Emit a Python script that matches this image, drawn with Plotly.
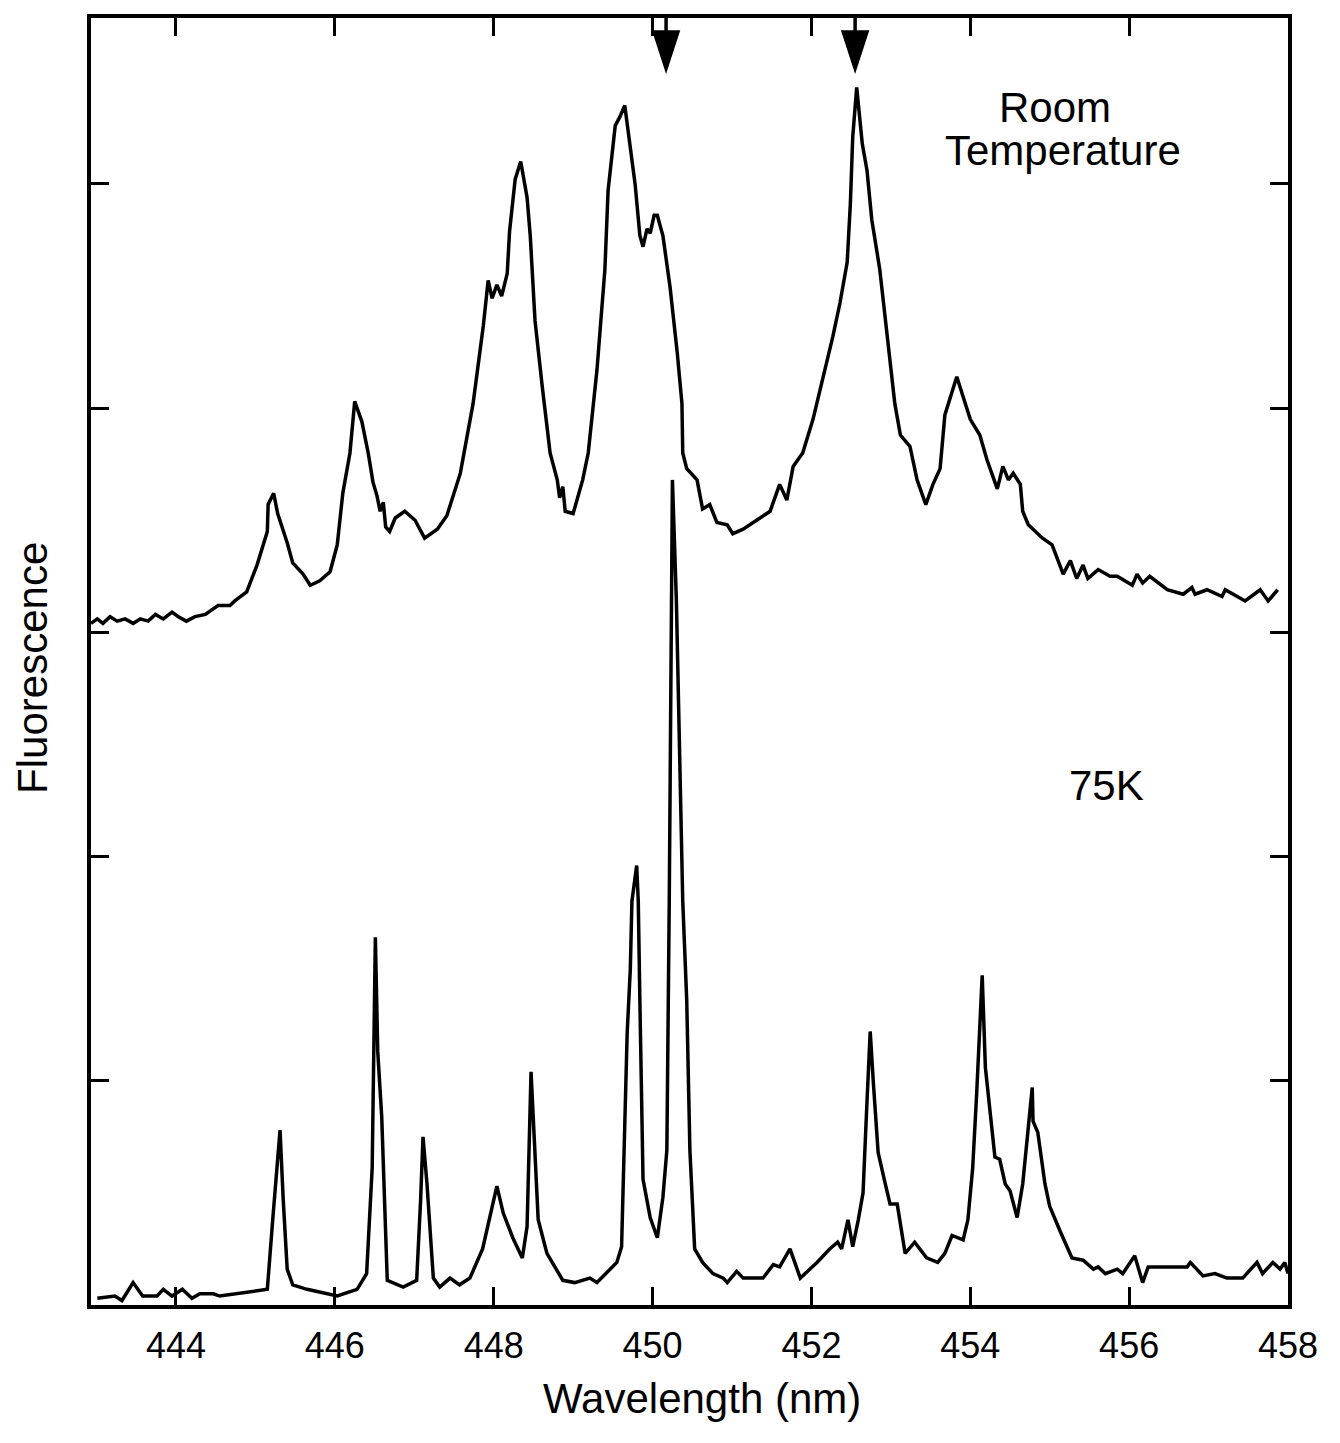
import plotly.graph_objects as go

# ---- data ----
rt_wavelength = [442.93, 443.01, 443.08, 443.17, 443.26, 443.36, 443.46, 443.55, 443.65, 443.74,
                 443.84, 443.95, 444.03, 444.13, 444.24, 444.37, 444.45, 444.53, 444.68, 444.74,
                 444.89, 445.02, 445.15, 445.16, 445.23, 445.28, 445.40, 445.47, 445.60, 445.69,
                 445.81, 445.94, 446.03, 446.10, 446.19, 446.25, 446.34, 446.42, 446.48, 446.53,
                 446.57, 446.61, 446.64, 446.69, 446.76, 446.88, 447.01, 447.13, 447.29, 447.41,
                 447.58, 447.74, 447.87, 447.93, 447.98, 448.04, 448.10, 448.17, 448.20, 448.27,
                 448.34, 448.38, 448.42, 448.46, 448.52, 448.61, 448.71, 448.80, 448.83, 448.87,
                 448.90, 449.00, 449.06, 449.12, 449.19, 449.30, 449.40, 449.44, 449.53, 449.59,
                 449.65, 449.72, 449.75, 449.78, 449.84, 449.88, 449.93, 449.97, 450.02, 450.06,
                 450.09, 450.13, 450.22, 450.31, 450.37, 450.38, 450.43, 450.56, 450.63, 450.72,
                 450.81, 450.94, 451.01, 451.14, 451.31, 451.48, 451.60, 451.69, 451.77, 451.89,
                 452.02, 452.15, 452.27, 452.36, 452.45, 452.49, 452.52, 452.57, 452.64, 452.70,
                 452.76, 452.86, 452.95, 453.05, 453.12, 453.24, 453.33, 453.44, 453.53, 453.62,
                 453.68, 453.83, 454.00, 454.12, 454.21, 454.34, 454.41, 454.48, 454.54, 454.63,
                 454.66, 454.73, 454.91, 455.03, 455.17, 455.26, 455.34, 455.42, 455.48, 455.61,
                 455.76, 455.85, 456.04, 456.10, 456.17, 456.26, 456.48, 456.68, 456.79, 456.83,
                 456.98, 457.17, 457.21, 457.46, 457.65, 457.75, 457.87]
rt_intensity = [3.04, 3.06, 3.04, 3.07, 3.05, 3.06, 3.04, 3.06, 3.05, 3.08,
                3.06, 3.09, 3.07, 3.05, 3.07, 3.08, 3.10, 3.12, 3.12, 3.14,
                3.18, 3.30, 3.45, 3.57, 3.62, 3.53, 3.40, 3.31, 3.26, 3.21,
                3.23, 3.27, 3.39, 3.62, 3.80, 4.03, 3.94, 3.80, 3.67, 3.61,
                3.54, 3.58, 3.47, 3.45, 3.51, 3.54, 3.50, 3.42, 3.46, 3.52,
                3.71, 4.02, 4.37, 4.57, 4.49, 4.55, 4.50, 4.60, 4.79, 5.02,
                5.10, 5.02, 4.94, 4.77, 4.39, 4.10, 3.80, 3.68, 3.60, 3.65,
                3.54, 3.53, 3.60, 3.68, 3.80, 4.17, 4.62, 4.97, 5.26, 5.30,
                5.35, 5.15, 5.07, 5.00, 4.77, 4.72, 4.80, 4.78, 4.86, 4.86,
                4.82, 4.77, 4.54, 4.25, 4.02, 3.80, 3.73, 3.68, 3.55, 3.57,
                3.49, 3.48, 3.44, 3.46, 3.50, 3.54, 3.66, 3.59, 3.74, 3.80,
                3.95, 4.14, 4.32, 4.47, 4.65, 4.91, 5.21, 5.43, 5.18, 5.06,
                4.84, 4.62, 4.32, 4.02, 3.88, 3.83, 3.68, 3.57, 3.66, 3.73,
                3.97, 4.14, 3.95, 3.88, 3.77, 3.64, 3.74, 3.68, 3.71, 3.66,
                3.54, 3.48, 3.42, 3.39, 3.26, 3.32, 3.24, 3.30, 3.24, 3.28,
                3.25, 3.25, 3.21, 3.26, 3.22, 3.25, 3.19, 3.17, 3.20, 3.17,
                3.19, 3.16, 3.19, 3.14, 3.19, 3.14, 3.19]

k75_wavelength = [443.01, 443.23, 443.32, 443.46, 443.58, 443.76, 443.84, 443.95, 444.08, 444.20,
                  444.30, 444.47, 444.55, 445.15, 445.22, 445.31, 445.35, 445.40, 445.47, 445.65,
                  446.03, 446.28, 446.40, 446.47, 446.51, 446.54, 446.59, 446.66, 446.86, 447.03,
                  447.08, 447.11, 447.16, 447.24, 447.32, 447.45, 447.57, 447.70, 447.86, 447.95,
                  448.04, 448.12, 448.24, 448.36, 448.42, 448.47, 448.52, 448.56, 448.67, 448.87,
                  449.02, 449.21, 449.30, 449.55, 449.61, 449.63, 449.68, 449.72, 449.74, 449.80,
                  449.82, 449.84, 449.88, 449.97, 450.06, 450.13, 450.18, 450.21, 450.24, 450.25,
                  450.30, 450.38, 450.43, 450.47, 450.53, 450.63, 450.76, 450.89, 450.94, 451.06,
                  451.14, 451.39, 451.52, 451.60, 451.73, 451.86, 452.07, 452.23, 452.33, 452.38,
                  452.46, 452.52, 452.59, 452.65, 452.70, 452.74, 452.78, 452.84, 452.93, 452.99,
                  453.08, 453.18, 453.30, 453.45, 453.59, 453.68, 453.77, 453.91, 453.97, 454.03,
                  454.08, 454.15, 454.19, 454.25, 454.31, 454.37, 454.44, 454.50, 454.59, 454.66,
                  454.78, 454.79, 454.85, 454.94, 455.00, 455.13, 455.28, 455.42, 455.55, 455.61,
                  455.70, 455.85, 455.92, 456.07, 456.17, 456.24, 456.43, 456.73, 456.77, 456.93,
                  457.08, 457.23, 457.43, 457.61, 457.68, 457.81, 457.90, 457.96, 458.00]
k75_intensity = [0.03, 0.04, 0.02, 0.10, 0.04, 0.04, 0.07, 0.04, 0.07, 0.03,
                 0.05, 0.05, 0.04, 0.07, 0.39, 0.78, 0.47, 0.16, 0.09, 0.07,
                 0.04, 0.07, 0.14, 0.61, 1.64, 1.13, 0.84, 0.11, 0.08, 0.11,
                 0.47, 0.75, 0.54, 0.12, 0.08, 0.12, 0.09, 0.12, 0.25, 0.39,
                 0.53, 0.41, 0.30, 0.21, 0.35, 1.04, 0.65, 0.38, 0.23, 0.11,
                 0.10, 0.12, 0.10, 0.19, 0.26, 0.54, 1.21, 1.50, 1.80, 1.96,
                 1.80, 1.36, 0.56, 0.39, 0.30, 0.48, 0.69, 1.80, 3.14, 3.68,
                 3.14, 1.80, 1.36, 0.69, 0.25, 0.19, 0.14, 0.12, 0.10, 0.15,
                 0.12, 0.12, 0.18, 0.17, 0.25, 0.12, 0.19, 0.25, 0.28, 0.25,
                 0.38, 0.26, 0.38, 0.50, 0.91, 1.22, 0.99, 0.68, 0.54, 0.45,
                 0.45, 0.23, 0.28, 0.21, 0.19, 0.23, 0.31, 0.29, 0.38, 0.61,
                 0.94, 1.47, 1.06, 0.84, 0.66, 0.65, 0.54, 0.51, 0.39, 0.54,
                 0.97, 0.82, 0.77, 0.54, 0.44, 0.33, 0.21, 0.20, 0.16, 0.17,
                 0.14, 0.16, 0.14, 0.22, 0.10, 0.17, 0.17, 0.17, 0.19, 0.13,
                 0.14, 0.12, 0.12, 0.19, 0.14, 0.19, 0.16, 0.19, 0.14]

arrow_wavelengths = [450.17, 452.55]
arrow_tip = 5.49
arrow_top = 5.74
arrow_base = 5.66

x_tick_values = [444, 446, 448, 450, 452, 454, 456, 458]
x_tick_labels = ["444", "446", "448", "450", "452", "454", "456", "458"]
y_tick_values = [1, 2, 3, 4, 5]

FONT = "Liberation Sans, Arial, Helvetica, sans-serif"

fig = go.Figure()
fig.add_trace(go.Scatter(x=rt_wavelength, y=rt_intensity, mode="lines",
                         line=dict(color="black", width=3.5), showlegend=False))
fig.add_trace(go.Scatter(x=k75_wavelength, y=k75_intensity, mode="lines",
                         line=dict(color="black", width=3.5), showlegend=False))

for xa in arrow_wavelengths:
    fig.add_trace(go.Scatter(x=[xa, xa], y=[arrow_top, arrow_base], mode="lines",
                             line=dict(color="black", width=3.5), showlegend=False,
                             cliponaxis=False))
fig.add_trace(go.Scatter(x=arrow_wavelengths, y=[arrow_tip] * len(arrow_wavelengths),
                         mode="markers",
                         marker=dict(symbol="arrow", angle=180, size=46, color="black",
                                     line=dict(width=0)),
                         showlegend=False, cliponaxis=False))

axis_common = dict(showgrid=False, zeroline=False, showline=True, linecolor="black",
                   linewidth=4, mirror="ticks", ticks="inside", ticklen=18,
                   tickwidth=2.5, tickcolor="black")

fig.update_layout(
    width=1340, height=1443, autosize=False,
    margin=dict(l=83, r=60, t=6, b=146),
    paper_bgcolor="white", plot_bgcolor="white",
    font=dict(family=FONT, color="black"),
    xaxis=dict(range=[442.93, 458], tickvals=x_tick_values, ticktext=x_tick_labels,
               tickfont=dict(size=36, family=FONT, color="black"),
               ticklabelstandoff=6, **axis_common),
    yaxis=dict(range=[0, 5.74], tickvals=y_tick_values, showticklabels=False,
               **axis_common),
    annotations=[
        dict(text="Wavelength (nm)", xref="paper", yref="paper", x=0.5105, y=-0.073,
             xanchor="center", yanchor="middle", showarrow=False,
             font=dict(size=42, family=FONT, color="black")),
        dict(text="Fluorescence", xref="paper", yref="paper", x=-0.0485, y=0.495,
             xanchor="center", yanchor="middle", showarrow=False, textangle=-90,
             font=dict(size=42, family=FONT, color="black")),
        dict(text="Room", xref="paper", yref="paper", x=0.8053, y=0.9303,
             xanchor="center", yanchor="middle", showarrow=False,
             font=dict(size=42, family=FONT, color="black")),
        dict(text="Temperature", xref="paper", yref="paper", x=0.812, y=0.897,
             xanchor="center", yanchor="middle", showarrow=False,
             font=dict(size=42, family=FONT, color="black")),
        dict(text="75K", xref="paper", yref="paper", x=0.848, y=0.4036,
             xanchor="center", yanchor="middle", showarrow=False,
             font=dict(size=42, family=FONT, color="black")),
    ],
)

fig.write_html("out.html")
